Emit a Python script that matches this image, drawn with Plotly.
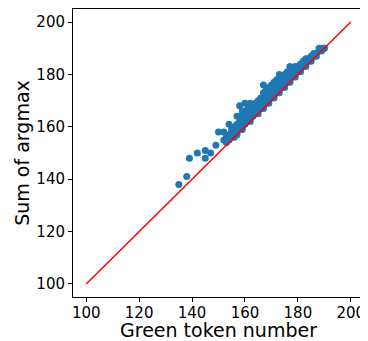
import plotly.graph_objects as go

# Outlier points (green token number, sum of argmax)
out_x = [135, 138, 139, 142, 145, 145, 147, 149, 150, 152, 152, 154, 157, 158, 160, 162, 164, 167, 167, 173, 177, 179, 183, 187, 189, 190]
out_y = [138, 141, 148, 150, 151, 148, 150, 153, 158, 158, 155, 161, 164, 168, 169, 169, 169, 176, 173, 180, 183, 183, 186, 188, 190, 190]

# Dense band near the diagonal: green token number -> list of sums
band = {
    153: [154, 155, 156], 154: [155, 156, 157], 155: [156, 157, 158, 159],
    156: [156, 157, 158, 160], 157: [157, 158, 159, 161], 158: [159, 160, 162, 164],
    159: [159, 160, 161, 163, 166], 160: [161, 162, 163, 165], 161: [162, 163, 164, 166, 167],
    162: [162, 163, 164, 165], 163: [164, 165, 166, 168], 164: [165, 166, 167],
    165: [165, 166, 167, 168, 170], 166: [167, 168, 169, 171], 167: [167, 168, 169, 170],
    168: [169, 170, 171, 172, 174], 169: [169, 170, 171, 173, 175], 170: [171, 172, 173, 174, 176],
    171: [171, 172, 173, 175, 177], 172: [173, 174, 175, 176, 178], 173: [173, 174, 175, 177],
    174: [175, 176, 177, 178], 175: [175, 176, 177, 179, 180], 176: [177, 178, 179, 181],
    177: [177, 178, 179, 180], 178: [179, 180, 181, 182], 179: [179, 180, 181],
    180: [181, 182, 183], 181: [181, 182, 183, 184], 182: [183, 184, 185],
    183: [183, 184], 184: [185, 186], 185: [185, 186, 187], 186: [187, 188],
    187: [187], 188: [189, 190], 189: [189], 190: [190],
}

band_x = [k for k, vs in band.items() for _ in vs]
band_y = [v for vs in band.values() for v in vs]

xs = out_x + band_x
ys = out_y + band_y

diag = [100, 200]

fig = go.Figure()
fig.add_trace(go.Scatter(x=xs, y=ys, mode="markers",
                         marker=dict(color="#1f77b4", size=7, line=dict(width=0)),
                         showlegend=False))
fig.add_trace(go.Scatter(x=diag, y=diag, mode="lines",
                         line=dict(color="red", width=1.5), showlegend=False))

axis_common = dict(
    range=[95, 205], tickvals=[100, 120, 140, 160, 180, 200],
    showline=True, linecolor="black", linewidth=1, mirror=True,
    ticks="outside", ticklen=4, tickcolor="black",
    showgrid=False, zeroline=False, automargin=True,
    tickfont=dict(family="DejaVu Sans", size=15, color="black"),
)

fig.update_layout(
    width=360, height=333,
    margin=dict(l=65, r=4, t=1, b=44),
    plot_bgcolor="white", paper_bgcolor="white",
    xaxis=dict(**axis_common, ticklabelstandoff=-2,
               title=dict(text="Green token number",
                          font=dict(family="DejaVu Sans", size=19, color="black"), standoff=0)),
    yaxis=dict(**axis_common,
               title=dict(text="Sum of argmax",
                          font=dict(family="DejaVu Sans", size=19, color="black"), standoff=1)),
)

fig.write_html("out.html")
